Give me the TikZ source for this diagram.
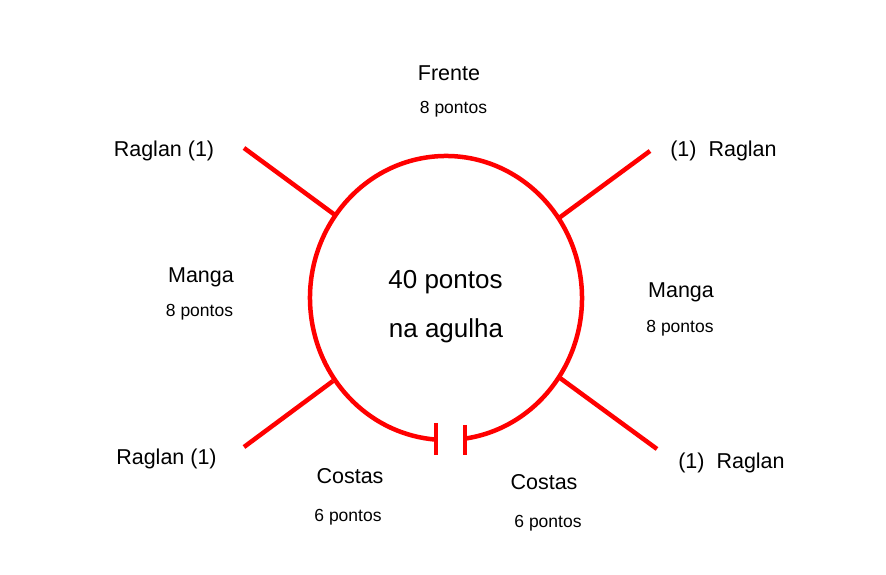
\documentclass[tikz,border=0pt]{standalone}
\usepackage{fontspec}
\setmainfont{Liberation Sans}
\usetikzlibrary{calc}
\definecolor{cR}{HTML}{FF0000}
\tikzset{
  lbl/.style={anchor=base,inner sep=0pt,font=\fontsize{21.5}{26}\selectfont},
  pts/.style={anchor=base,inner sep=0pt,font=\fontsize{17.5}{21}\selectfont},
  big/.style={anchor=base,inner sep=0pt,font=\fontsize{26}{30}\selectfont},
  yarn/.style={cR,line width=4.5pt},
}

\begin{document}
\begin{tikzpicture}[x=1pt,y=1pt]
  \useasboundingbox (0,0) rectangle (886,575);

  \coordinate (o) at (446,277);
  \draw[yarn] ($(o)+(278:136 and 142)$) arc[start angle=278,end angle=625.8,x radius=136,y radius=142];
  \draw[yarn] (436,152) -- (436,120);
  \draw[yarn] (465,150) -- (465,120);

  \foreach \n/\ax/\ay/\bx/\by in {ul/244/427/335/360,ur/650/424/559/357,ll/244/128/333/194,lr/657/126/560/197}{
      \coordinate (s\n) at (\ax,\ay);
      \coordinate (e\n) at (\bx,\by);
      \draw[yarn] (s\n) -- (e\n);
    }

  \node[lbl] (frente) at (449,494) {Frente};
  \node[pts] (frenteP) at (453.5,461) {8 pontos};

  \node[lbl] (rUL) at (164,418) {Raglan (1)};
  \node[lbl] (rUR) at (723.5,418) {(1)~~Raglan};
  \node[lbl] (rLL) at (166.5,110) {Raglan (1)};
  \node[lbl] (rLR) at (731.5,106) {(1)~~Raglan};

  \node[lbl] (mangaL) at (201,292) {Manga};
  \node[pts] (mangaLP) at (199.5,258) {8 pontos};
  \node[lbl] (mangaR) at (681,277) {Manga};
  \node[pts] (mangaRP) at (680,242) {8 pontos};

  \node[big] (tot) at (445.5,286) {40 pontos};
  \node[big] (agulha) at (446,237) {na agulha};

  \node[lbl] (costasL) at (350,91) {Costas};
  \node[pts] (costasLP) at (348,53) {6 pontos};
  \node[lbl] (costasR) at (544,85) {Costas};
  \node[pts] (costasRP) at (548,47) {6 pontos};
\end{tikzpicture}
\end{document}
